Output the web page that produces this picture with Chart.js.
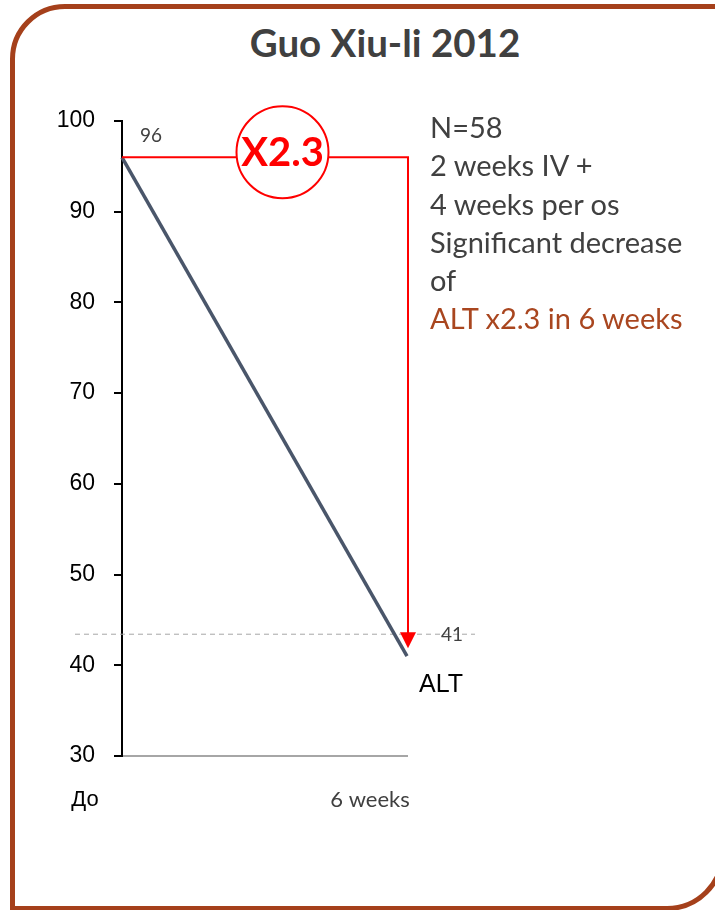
<!DOCTYPE html>
<html>
<head>
<meta charset="utf-8">
<script src="https://cdn.jsdelivr.net/npm/chart.js@4/dist/chart.umd.min.js"></script>
<style>
  body { margin: 0; width: 715px; height: 910px; overflow: hidden; background: #fff; position: relative; }
  #frame { position: absolute; left: 10px; top: 4px; width: 715px; height: 907px; box-sizing: border-box;
           border: 5px solid #A5401B; border-radius: 55px 0 58px 0; }
  #title { position: absolute; left: 0; width: 770px; top: 19px; text-align: center;
           font: bold 38.5px Lato, sans-serif; color: #404040; }
  #notes { position: absolute; left: 430px; top: 108px; font: 29px Lato, sans-serif; line-height: 38.3px; color: #404040; }
  #notes .hl { color: #A9461F; }
  #myChart { position: absolute; left: 0; top: 0; }
</style>
</head>
<body>
<div id="frame"></div>
<div id="title">Guo Xiu-li 2012</div>
<canvas id="myChart" width="715" height="910"></canvas>
<div id="notes">
  N=58<br>
  2 weeks IV +<br>
  4 weeks per os<br>
  Significant decrease<br>
  of<br>
  <span class="hl">ALT x2.3 in 6 weeks</span>
</div>
<script>
// данные
const categories = ['До', '6 weeks'];
const altValues = [96, 41];
const seriesName = 'ALT';
const yMin = 30, yMax = 100, yStep = 10;
const ratioLabel = 'X2.3';

// стрелка, кружок, подписи значений
const annotations = {
    id: 'annotations',
    beforeDatasetsDraw(chart) {
        const ctx = chart.ctx;
        const y = chart.scales.y;
        const yLabel = y.getPixelForValue(altValues[1]) - 22;
        ctx.save();
        ctx.strokeStyle = '#A6A6A6';
        ctx.lineWidth = 1;
        ctx.setLineDash([5, 4]);
        ctx.beginPath();
        ctx.moveTo(75, yLabel);
        ctx.lineTo(475, yLabel);
        ctx.stroke();
        ctx.restore();
    },
    afterDatasetsDraw(chart) {
        const ctx = chart.ctx;
        const x = chart.scales.x, y = chart.scales.y;
        const x0 = x.getPixelForValue(0), x1 = x.getPixelForValue(1);
        const y0 = y.getPixelForValue(altValues[0]), y1 = y.getPixelForValue(altValues[1]);
        const ax = x1 + 1, tip = y1 - 8;
        ctx.save();
        // red arrow
        ctx.strokeStyle = '#FF0000';
        ctx.fillStyle = '#FF0000';
        ctx.lineWidth = 2;
        ctx.beginPath();
        ctx.moveTo(x0, y0);
        ctx.lineTo(ax, y0);
        ctx.lineTo(ax, tip - 14);
        ctx.stroke();
        ctx.beginPath();
        ctx.moveTo(ax - 8, tip - 16);
        ctx.lineTo(ax + 8, tip - 16);
        ctx.lineTo(ax, tip);
        ctx.closePath();
        ctx.fill();
        // circle
        const cx = (x0 + x1) / 2 + 18, cy = y0 - 5;
        ctx.beginPath();
        ctx.arc(cx, cy, 46, 0, Math.PI * 2);
        ctx.fillStyle = '#fff';
        ctx.fill();
        ctx.stroke();
        ctx.fillStyle = '#FF0000';
        ctx.font = 'bold 40px Lato';
        ctx.textAlign = 'center';
        ctx.textBaseline = 'middle';
        ctx.fillText(ratioLabel, cx, cy + 1);
        // value labels
        ctx.fillStyle = '#404040';
        ctx.font = '19px Lato';
        ctx.fillText(String(altValues[0]), x0 + 29, y0 - 21);
        ctx.fillText(String(altValues[1]), x1 + 45, y1 - 21);
        // series name
        ctx.fillStyle = '#000';
        ctx.font = '25px "Liberation Sans"';
        ctx.fillText(seriesName, x1 + 34, y1 + 29);
        ctx.restore();
    }
};

const ctx = document.getElementById('myChart').getContext('2d');
new Chart(ctx, {
    type: 'line',
    data: {
        labels: categories,
        datasets: [{
            label: seriesName,
            data: altValues,
            borderColor: '#4A566A',
            borderWidth: 3.5,
            pointRadius: 0,
            tension: 0,
            clip: false
        }]
    },
    options: {
        responsive: false,
        animation: false,
        layout: { padding: { top: 121, right: 308, bottom: 0, left: 0 } },
        plugins: { legend: { display: false }, tooltip: { enabled: false } },
        scales: {
            x: {
                offset: false,
                grid: { display: false, tickLength: 0 },
                border: { color: '#A6A6A6', width: 2 },
                ticks: {
                    padding: 31,
                    labelOffset: -37,
                    maxRotation: 0,
                    color: c => c.index === 0 ? '#000' : '#404040',
                    font: c => c.index === 0 ? { family: 'Liberation Sans', size: 22 } : { family: 'Lato', size: 22 }
                },
                afterFit: s => { s.height = 154; }
            },
            y: {
                min: yMin,
                max: yMax,
                grid: { drawOnChartArea: false, tickLength: 8, color: '#000', lineWidth: 2 },
                border: { color: '#000', width: 2 },
                ticks: {
                    stepSize: yStep,
                    padding: 19,
                    color: '#000',
                    font: { family: 'Liberation Sans', size: 23 }
                },
                afterFit: s => { s.width = 122; }
            }
        }
    },
    plugins: [annotations]
});
</script>
</body>
</html>
